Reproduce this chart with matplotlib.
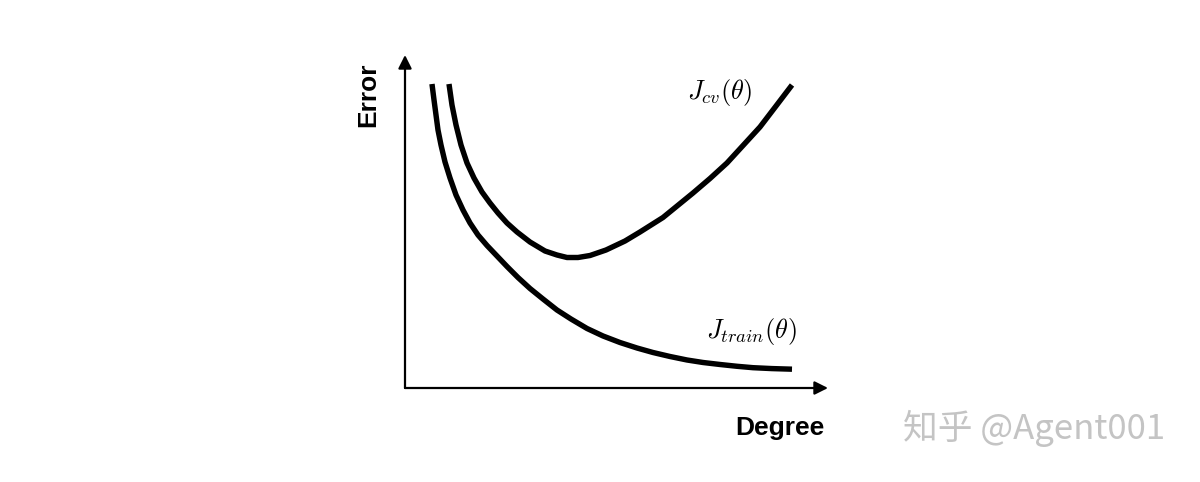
import matplotlib
matplotlib.use("Agg")
import matplotlib.pyplot as plt

plt.rcParams['mathtext.fontset'] = 'cm'

# points (degree 0..10, error 0..10)
cv_degree = [1.040, 1.111, 1.206, 1.324, 1.466, 1.631, 1.820, 2.009, 2.199, 2.411, 2.648,
             2.955, 3.310, 3.593, 3.830, 4.090, 4.374, 4.752, 5.201, 5.556, 6.099, 6.809,
             7.210, 7.612, 7.991, 8.392, 8.771, 9.149]
cv_error = [9.129, 8.498, 7.898, 7.297, 6.757, 6.306, 5.886, 5.556, 5.255, 4.955, 4.685,
            4.384, 4.114, 3.994, 3.919, 3.919, 3.979, 4.144, 4.414, 4.685, 5.120, 5.856,
            6.291, 6.757, 7.282, 7.838, 8.468, 9.099]

train_degree = [0.638, 0.686, 0.733, 0.780, 0.851, 0.946, 1.064, 1.206, 1.371, 1.537, 1.726,
                1.939, 2.175, 2.411, 2.671, 2.955, 3.262, 3.593, 3.924, 4.303, 4.681, 5.083,
                5.485, 5.863, 6.265, 6.667, 7.045, 7.447, 7.849, 8.227, 8.676, 9.149]
train_error = [9.129, 8.649, 8.198, 7.748, 7.297, 6.787, 6.306, 5.796, 5.345, 4.955, 4.595,
               4.279, 3.964, 3.649, 3.318, 2.988, 2.673, 2.342, 2.072, 1.787, 1.562, 1.366,
               1.201, 1.066, 0.946, 0.841, 0.766, 0.706, 0.652, 0.610, 0.583, 0.565]

fig = plt.figure(figsize=(12, 4.82), dpi=100)
ax = fig.add_axes([405 / 1200, 1 - 388 / 482, 423 / 1200, 333 / 482])
ax.set_xlim(0, 10)
ax.set_ylim(0, 10)
ax.axis('off')

# the two error curves
ax.plot(cv_degree, cv_error, color='black', lw=3.9, solid_capstyle='butt', solid_joinstyle='round')
ax.plot(train_degree, train_error, color='black', lw=3.9, solid_capstyle='butt', solid_joinstyle='round')

# axes with arrow heads
arrow = dict(arrowstyle='-|>', lw=1.6, color='black', mutation_scale=20, shrinkA=0, shrinkB=0)
ax.annotate('', xy=(10, 0), xytext=(0, 0), arrowprops=arrow, annotation_clip=False)
ax.annotate('', xy=(0, 10), xytext=(0, 0), arrowprops=arrow, annotation_clip=False)

ax.text(-0.87, 8.80, 'Error', rotation=90, ha='center', va='center', fontsize=19,
        fontweight='bold', family='Liberation Sans')
ax.text(8.87, -1.2, 'Degree', ha='center', va='center', fontsize=19,
        fontweight='bold', family='Liberation Sans')
ax.text(7.45, 8.86, r'$J_{cv}(\theta)$', ha='center', va='center', fontsize=19)
ax.text(8.18, 1.71, r'$J_{train}(\theta)$', ha='center', va='center', fontsize=19)

# watermark
fig.text(1034 / 1200, 1 - 428 / 482, '知乎 @Agent001', ha='center', va='center', fontsize=25,
         color='#c4c4c4', family=['Noto Sans CJK SC', 'DejaVu Sans'])

fig.savefig('out.png', dpi=100)
